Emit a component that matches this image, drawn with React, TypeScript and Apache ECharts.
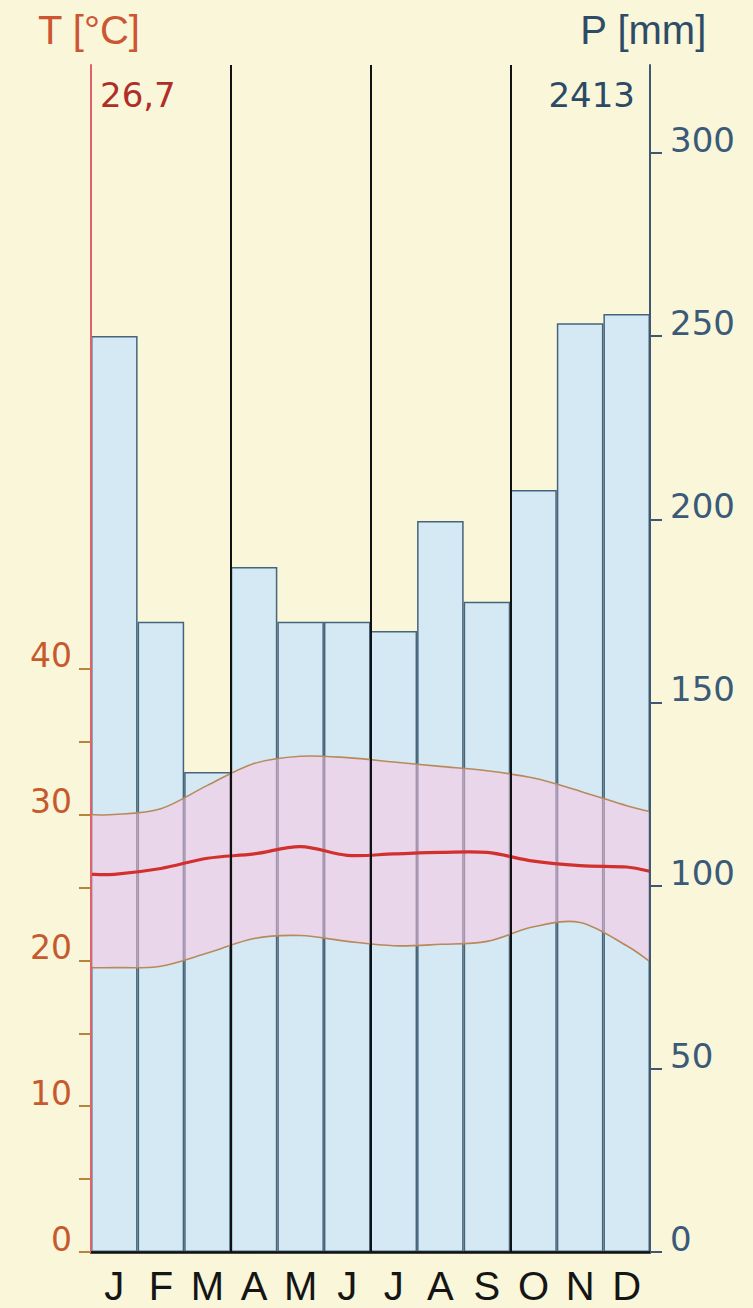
import React, { useEffect, useRef } from "react";
import * as echarts from "echarts";

const months = ["J", "F", "M", "A", "M", "J", "J", "A", "S", "O", "N", "D"];
const precipitation = [250, 172, 131, 187, 172, 172, 169.5, 199.5, 177.5, 208, 253.5, 256];
// temperature curves: left edge, 12 month centres, right edge
const tempX = [0, 0.5, 1.5, 2.5, 3.5, 4.5, 5.5, 6.5, 7.5, 8.5, 9.5, 10.5, 11.5, 12];
const tempMax = [30.0, 30.0, 30.4, 32.0, 33.5, 34.0, 33.9, 33.6, 33.3, 33.0, 32.5, 31.6, 30.6, 30.2];
const tempMean = [25.9, 25.9, 26.3, 27.0, 27.3, 27.8, 27.2, 27.3, 27.4, 27.4, 26.8, 26.5, 26.4, 26.1];
const tempMin = [19.5, 19.5, 19.6, 20.5, 21.5, 21.7, 21.3, 21.0, 21.1, 21.3, 22.3, 22.6, 21.0, 19.9];
const quarterLines = [3, 6, 9];
const tTickValues = [0, 5, 10, 15, 20, 25, 30, 35, 40];
const tLabelValues = [0, 10, 20, 30, 40];
const pTickValues = [0, 50, 100, 150, 200, 250, 300];
const meanTemp = "26,7";
const totalPrecip = "2413";

type Pt = number[];

function curve(pts: Pt[], start: boolean): string {
  let d = start ? `M${pts[0][0]},${pts[0][1]}` : `L${pts[0][0]},${pts[0][1]}`;
  for (let i = 0; i < pts.length - 1; i++) {
    const p0 = pts[Math.max(0, i - 1)];
    const p1 = pts[i];
    const p2 = pts[i + 1];
    const p3 = pts[Math.min(pts.length - 1, i + 2)];
    const c1x = p1[0] + (p2[0] - p0[0]) / 6;
    const c1y = p1[1] + (p2[1] - p0[1]) / 6;
    const c2x = p2[0] - (p3[0] - p1[0]) / 6;
    const c2y = p2[1] - (p3[1] - p1[1]) / 6;
    d += ` C${c1x},${c1y} ${c2x},${c2y} ${p2[0]},${p2[1]}`;
  }
  return d;
}

export default function App() {
  const ref = useRef<HTMLDivElement>(null);
  useEffect(() => {
    if (!ref.current) return;
    const chart = echarts.init(ref.current, null, { renderer: "svg" });
    const numFont = "DejaVu Sans";
    const titleFont = "40px 'Liberation Sans Narrow', 'Liberation Sans', Arial";
    chart.setOption({
      animation: false,
      backgroundColor: "#f9f6d9",
      grid: { left: 91, right: 103, top: 65, bottom: 56 },
      xAxis: [
        {
          type: "category",
          data: months,
          boundaryGap: true,
          axisLine: { show: true, lineStyle: { color: "#111", width: 2.5 } },
          axisTick: { show: false },
          axisLabel: {
            color: "#151515",
            fontSize: 40,
            fontFamily: "Liberation Sans Narrow, Liberation Sans, Arial",
            margin: 14,
          },
          splitLine: { show: false },
          z: 10,
        },
        { type: "value", min: 0, max: 12, show: false },
      ],
      yAxis: [
        {
          type: "value",
          position: "left",
          min: 0,
          max: 81.4,
          interval: 5,
          axisLine: { show: true, lineStyle: { color: "#e0606e", width: 2 } },
          axisTick: {
            show: true,
            length: 12,
            customValues: tTickValues,
            lineStyle: { color: "#b8833a", width: 2 },
          },
          axisLabel: {
            customValues: tLabelValues,
            color: "#c65a2e",
            fontSize: 33,
            fontFamily: numFont,
            margin: 19,
            verticalAlign: "bottom",
            lineHeight: 26,
          },
          splitLine: { show: false },
          z: 10,
        },
        {
          type: "value",
          position: "right",
          min: 0,
          max: 324,
          interval: 50,
          axisLine: { show: true, lineStyle: { color: "#3d5870", width: 2 } },
          axisTick: {
            show: true,
            length: 12,
            customValues: pTickValues,
            lineStyle: { color: "#3d5870", width: 2 },
          },
          axisLabel: {
            customValues: pTickValues,
            color: "#3a5a78",
            fontSize: 34,
            fontFamily: numFont,
            margin: 20,
            verticalAlign: "bottom",
            lineHeight: 26,
          },
          splitLine: { show: false },
          z: 10,
        },
      ],
      graphic: [
        {
          type: "text",
          left: 38,
          top: 10,
          style: { text: "T [°C]", fill: "#cc5633", font: titleFont },
        },
        {
          type: "text",
          right: 46,
          top: 10,
          style: { text: "P [mm]", fill: "#2f4c66", font: titleFont },
        },
        {
          type: "text",
          left: 100,
          top: 78,
          style: { text: meanTemp, fill: "#b02e28", font: "34px 'DejaVu Sans'" },
        },
        {
          type: "text",
          right: 118,
          top: 78,
          style: { text: totalPrecip, fill: "#2b4a66", font: "34px 'DejaVu Sans'" },
        },
      ],
      series: [
        {
          type: "bar",
          xAxisIndex: 0,
          yAxisIndex: 1,
          data: precipitation,
          barCategoryGap: "0%",
          itemStyle: { color: "#d4e9f4", borderColor: "#46647c", borderWidth: 1.5 },
          z: 1,
        },
        {
          type: "custom",
          xAxisIndex: 1,
          yAxisIndex: 0,
          data: [[0, 0]],
          z: 3,
          silent: true,
          renderItem: (_params: any, api: any) => {
            const toPts = (arr: number[]) => tempX.map((x, i) => api.coord([x, arr[i]]));
            const top = toPts(tempMax);
            const bot = toPts(tempMin);
            const mid = toPts(tempMean);
            const band = curve(top, true) + " " + curve(bot.slice().reverse(), false) + " Z";
            return {
              type: "group",
              children: [
                {
                  type: "path",
                  shape: { pathData: band },
                  style: { fill: "rgba(255, 196, 226, 0.5)", stroke: "none" },
                },
                {
                  type: "path",
                  shape: { pathData: curve(top, true) },
                  style: { fill: "none", stroke: "#b8895a", lineWidth: 1.6 },
                },
                {
                  type: "path",
                  shape: { pathData: curve(bot, true) },
                  style: { fill: "none", stroke: "#b8895a", lineWidth: 1.6 },
                },
                {
                  type: "path",
                  shape: { pathData: curve(mid, true) },
                  style: { fill: "none", stroke: "#d2302c", lineWidth: 3.2 },
                },
              ],
            };
          },
          markLine: {
            silent: true,
            symbol: "none",
            label: { show: false },
            lineStyle: { color: "#111", width: 2, type: "solid" },
            data: quarterLines.map((v) => ({ xAxis: v })),
          },
        },
      ],
    });
    return () => chart.dispose();
  }, []);
  return (
    <div
      ref={ref}
      style={{ position: "fixed", left: 0, top: 0, width: 753, height: 1308 }}
    />
  );
}
